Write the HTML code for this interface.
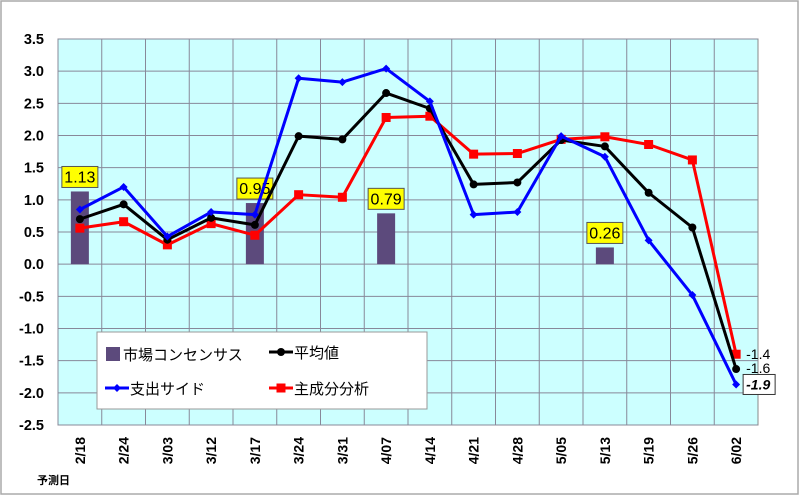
<!DOCTYPE html>
<html><head><meta charset="utf-8"><style>
body{margin:0;background:#fff}
svg{display:block;font-family:"Liberation Sans","Noto Sans CJK JP",sans-serif}
</style></head><body>
<svg id="c" width="800" height="496"></svg>
<script>
const categories=["2/18","2/24","3/03","3/12","3/17","3/24","3/31","4/07","4/14","4/21","4/28","5/05","5/13","5/19","5/26","6/02"];
const consensus=[1.13,null,null,null,0.95,null,null,0.79,null,null,null,null,0.26,null,null,null];
const expenditure=[0.85,1.2,0.43,0.81,0.77,2.89,2.83,3.04,2.53,0.77,0.81,1.99,1.67,0.37,-0.48,-1.87];
const average=[0.70,0.93,0.38,0.72,0.61,1.99,1.94,2.66,2.42,1.24,1.27,1.93,1.83,1.11,0.57,-1.63];
const pca=[0.56,0.66,0.30,0.63,0.45,1.08,1.04,2.28,2.30,1.71,1.72,1.94,1.98,1.86,1.62,-1.40];
const yTicks=[3.5,3.0,2.5,2.0,1.5,1.0,0.5,0.0,-0.5,-1.0,-1.5,-2.0,-2.5];
const endLabels=["-1.4","-1.6","-1.9"];
const NS="http://www.w3.org/2000/svg";
const svg=document.getElementById('c');
const L=58,R=758,T=39,B=425,yMin=-2.5,yMax=3.5;
const bw=(R-L)/categories.length;
const X=i=>L+bw*(i+0.5);
const Y=v=>T+(yMax-v)/(yMax-yMin)*(B-T);
function mk(tag,a,p){const e=document.createElementNS(NS,tag);for(const k in a)e.setAttribute(k,a[k]);(p||svg).appendChild(e);return e;}
let e;
e=mk('rect',{x:1,y:1,width:797,height:493,fill:'#fff',stroke:'#aaa','stroke-width':1.5});


e=mk('rect',{x:L,y:T,width:R-L,height:B-T,fill:'#ccffff',stroke:'#888'});


yTicks.forEach(t=>{
 e=mk('line',{x1:L,x2:R,y1:Y(t),y2:Y(t),stroke:'#889',"stroke-width":1});
 
 
 e=mk('text',{x:L-14,y:Y(t)+5,'text-anchor':'end','font-size':14.5,'font-weight':'bold'});
 e.textContent=t.toFixed(1);
 
 
});
categories.forEach((c,i)=>{
 e=mk('line',{x1:L+bw*i,x2:L+bw*i,y1:T,y2:B,stroke:'#889'});
 
 
 e=mk('text',{x:0,y:0,transform:`translate(${X(i)+5},${B+12}) rotate(-90)`,'text-anchor':'end','font-size':14,'font-weight':'bold'});
 e.textContent=c;
 
 
});
e=mk('text',{x:37,y:484,'font-size':11,'font-weight':'bold'});e.textContent='予測日';


consensus.forEach((v,i)=>{
 if(v==null)return;
 e=mk('rect',{x:X(i)-9,y:Y(v),width:18,height:Y(0)-Y(v),fill:'#5c4a7c'});
 
 
 const g=mk('g',{});
 
 
 mk('rect',{x:X(i)-18,y:Y(v)-25,width:36,height:21,fill:'#ffff00',stroke:'#555'},g);
 const t=mk('text',{x:X(i),y:Y(v)-9,'text-anchor':'middle','font-size':16},g);t.textContent=v.toFixed(2);
});
function series(vals,color,marker,name){
 const g=mk('g',{});
 
 
 mk('polyline',{points:vals.map((v,i)=>X(i)+','+Y(v)).join(' '),fill:'none',stroke:color,'stroke-width':3,'stroke-linejoin':'round'},g);
 vals.forEach((v,i)=>{
  if(marker==='c')e=mk('circle',{cx:X(i),cy:Y(v),r:4,fill:color},g);
  else if(marker==='s')e=mk('rect',{x:X(i)-4.5,y:Y(v)-4.5,width:9,height:9,fill:color},g);
  else e=mk('path',{d:`M${X(i)-4},${Y(v)}L${X(i)},${Y(v)-4}L${X(i)+4},${Y(v)}L${X(i)},${Y(v)+4}Z`,fill:color},g);
  
  
 });
}
series(pca,'#ff0000','s','series-pca');
series(average,'#000000','c','series-average');
series(expenditure,'#0000ff','d','series-expenditure');
const n=categories.length-1;
e=mk('text',{x:X(n)+10,y:Y(pca[n])+5,'font-size':14});e.textContent=endLabels[0];


e=mk('text',{x:X(n)+10,y:Y(average[n])+4,'font-size':14});e.textContent=endLabels[1];


e=mk('rect',{x:X(n)+7,y:Y(expenditure[n])-10,width:32,height:20,fill:'#fff',stroke:'#333'});


e=mk('text',{x:X(n)+10,y:Y(expenditure[n])+5,'font-size':14,'font-weight':'bold','font-style':'italic'});e.textContent=endLabels[2];


const lg=mk('g',{});


mk('rect',{x:97,y:332,width:330,height:77,fill:'#fff',stroke:'#999'},lg);
function lentry(x,y,label,kind,color,name){
 const g=mk('g',{},lg);
 
 
 if(kind==='bar')mk('rect',{x:x,y:y-7,width:14,height:14,fill:'#5c4a7c'},g);
 else{mk('line',{x1:x-2,x2:x+22,y1:y,y2:y,stroke:color,'stroke-width':3},g);
  if(kind==='c')mk('circle',{cx:x+10,cy:y,r:4,fill:color},g);
  else if(kind==='s')mk('rect',{x:x+5.5,y:y-4.5,width:9,height:9,fill:color},g);
  else mk('path',{d:`M${x+6},${y}L${x+10},${y-4}L${x+14},${y}L${x+10},${y+4}Z`,fill:color},g);}
 const t=mk('text',{x:x+(kind==='bar'?17:23),y:y+6,'font-size':15},g);t.textContent=label;
}
lentry(106,354,'市場コンセンサス','bar','#5c4a7c','legend-consensus');
lentry(271,352,'平均値','c','#000','legend-average');
lentry(107,388,'支出サイド','d','#0000ff','legend-expenditure');
lentry(271,388,'主成分分析','s','#ff0000','legend-pca');
</script>
</body></html>
